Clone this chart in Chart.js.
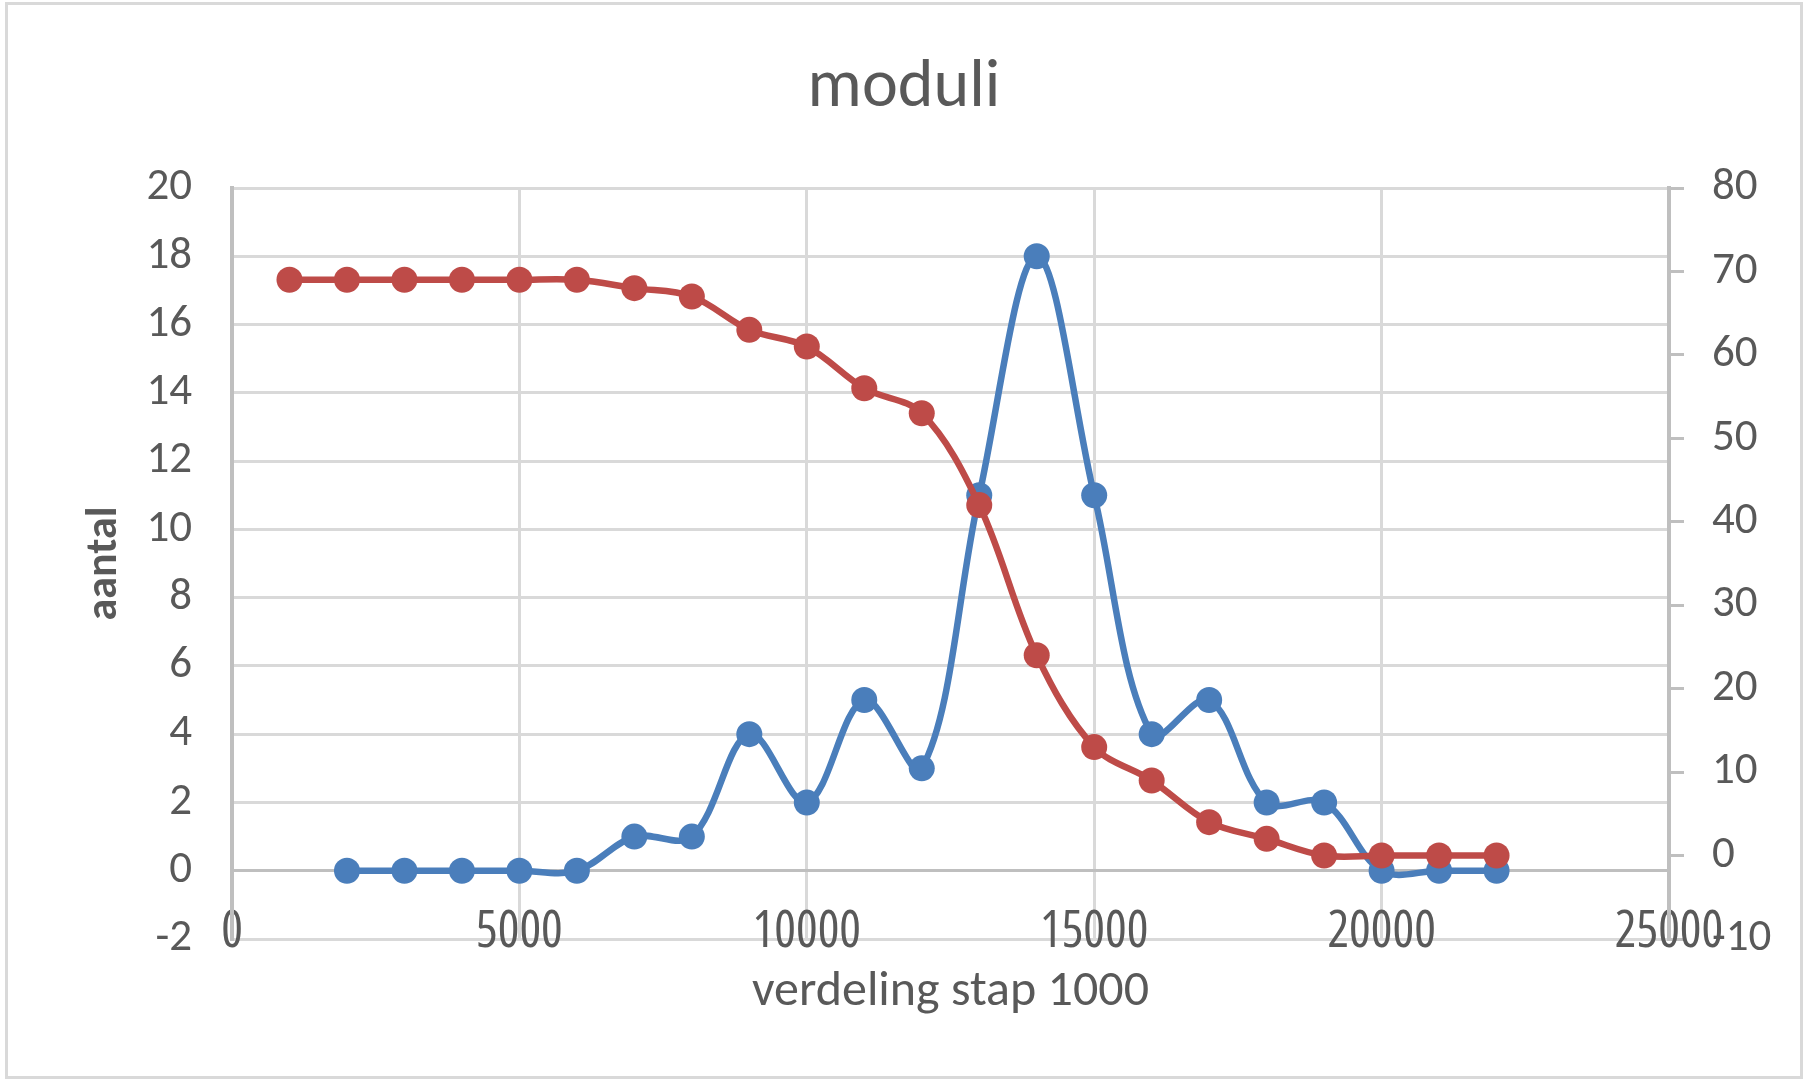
<!DOCTYPE html>
<html>
<head>
<meta charset="utf-8">
<script src="https://cdn.jsdelivr.net/npm/chart.js@4.4.1/dist/chart.umd.min.js"></script>
<style>
  html, body { margin: 0; padding: 0; background: #fff; }
  #wrap { position: relative; width: 1808px; height: 1081px; }
  #frame { position: absolute; left: 5px; top: 2px; right: 5px; bottom: 2px;
           border: 3px solid #d9d9d9; pointer-events: none; }
</style>
</head>
<body>
<div id="wrap">
  <canvas id="moduliChart" width="1808" height="1081"></canvas>
  <div id="frame"></div>
</div>
<script>
// values (Excel scatter with smoothed lines)
const aantalX = [2000, 3000, 4000, 5000, 6000, 7000, 8000, 9000, 10000, 11000, 12000,
                 13000, 14000, 15000, 16000, 17000, 18000, 19000, 20000, 21000, 22000];
const aantalY = [0, 0, 0, 0, 0, 1, 1, 4, 2, 5, 3, 11, 18, 11, 4, 5, 2, 2, 0, 0, 0];

const cumulX = [1000, 2000, 3000, 4000, 5000, 6000, 7000, 8000, 9000, 10000, 11000,
                12000, 13000, 14000, 15000, 16000, 17000, 18000, 19000, 20000, 21000, 22000];
const cumulY = [69, 69, 69, 69, 69, 69, 68, 67, 63, 61, 56, 53, 42, 24, 13, 9, 4, 2, 0, 0, 0, 0];

const blue = '#4A7EBB';
const red = '#BE4B48';
const textColor = '#595959';
const gridLight = '#d9d9d9';
const gridDark = '#bfbfbf';
const calibri = "Carlito, Calibri, 'Open Sans', sans-serif";

function toPoints(xs, ys) {
    return xs.map((x, i) => ({ x: x, y: ys[i] }));
}

let ctx = document.getElementById('moduliChart');

new Chart(ctx, {
    type: 'scatter',
    data: {
        datasets: [
            {
                label: 'cumulatief',
                data: toPoints(cumulX, cumulY),
                yAxisID: 'y2',
                showLine: true,
                tension: 0.35,
                borderColor: red,
                backgroundColor: red,
                borderWidth: 6.5,
                pointRadius: 13,
                pointBorderWidth: 0
            },
            {
                label: 'aantal',
                data: toPoints(aantalX, aantalY),
                yAxisID: 'y',
                showLine: true,
                tension: 0.35,
                borderColor: blue,
                backgroundColor: blue,
                borderWidth: 6.5,
                pointRadius: 13,
                pointBorderWidth: 0
            }
        ]
    },
    options: {
        responsive: false,
        animation: false,
        layout: { padding: 0 },
        plugins: {
            legend: { display: false },
            tooltip: { enabled: false },
            title: {
                display: true,
                text: 'moduli',
                color: textColor,
                font: { family: calibri, size: 68, weight: 'normal', lineHeight: 1.2 },
                padding: { top: 48, bottom: 58.4 }
            }
        },
        scales: {
            x: {
                type: 'linear',
                min: 0,
                max: 25000,
                ticks: {
                    stepSize: 5000,
                    mirror: true,
                    padding: -24,
                    color: textColor,
                    // the x labels in the picture are tall and narrow
                    font: { family: "'Open Sans'", size: 51, weight: 'condensed' },
                    callback: (v) => String(v)
                },
                grid: {
                    drawTicks: false,
                    lineWidth: 3,
                    color: (c) => c.tick && c.tick.value === 0 ? gridDark : gridLight
                },
                border: { display: true, color: gridLight, width: 3 },
                title: {
                    display: true,
                    text: 'verdeling stap 1000',
                    color: textColor,
                    font: { family: calibri, size: 50, lineHeight: 1.2 },
                    padding: { top: 0, bottom: 58.5 }
                },
                afterFit: (scale) => { scale.height = 142; }
            },
            y: {
                position: 'left',
                min: -2,
                max: 20,
                ticks: {
                    stepSize: 2,
                    padding: 40,
                    color: textColor,
                    font: { family: calibri, size: 45 }
                },
                grid: {
                    drawTicks: false,
                    lineWidth: 3,
                    color: (c) => c.tick && c.tick.value === 0 ? gridDark : gridLight
                },
                border: { display: true, color: gridDark, width: 4 },
                title: {
                    display: true,
                    text: 'aantal',
                    color: textColor,
                    font: { family: calibri, size: 44, weight: 'bold', lineHeight: 1.2 },
                    padding: { top: 79, bottom: 0 }
                },
                afterFit: (scale) => { scale.width = 232; }
            },
            y2: {
                position: 'right',
                min: -10,
                max: 80,
                ticks: {
                    stepSize: 10,
                    padding: 28,
                    color: textColor,
                    font: { family: calibri, size: 45 }
                },
                grid: {
                    drawOnChartArea: false,
                    drawTicks: true,
                    tickLength: 15,
                    lineWidth: 3,
                    color: gridDark
                },
                border: { display: true, color: gridDark, width: 4 },
                afterFit: (scale) => { scale.width = 139; }
            }
        }
    }
});
</script>
</body>
</html>
